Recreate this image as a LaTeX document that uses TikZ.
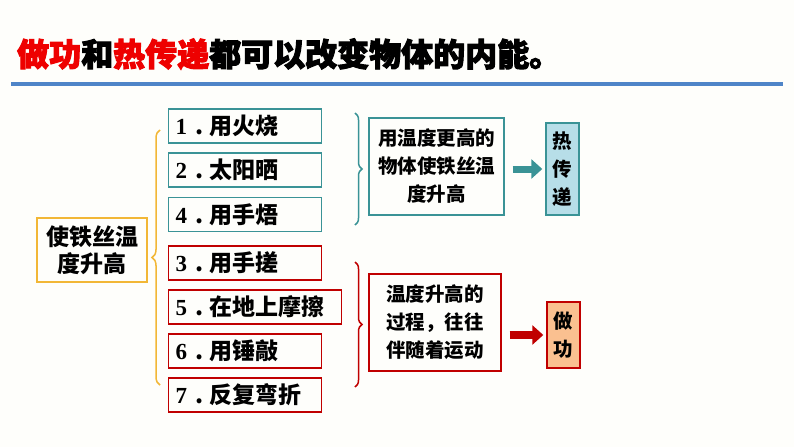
\documentclass[tikz,border=0pt]{standalone}
\usepackage{fontspec}
\usetikzlibrary{arrows.meta,decorations.pathreplacing}
\newfontfamily\cjk{Noto Sans CJK SC}
\newfontfamily\cjkt{Noto Sans CJK SC}[BoldFeatures={FakeBold=3}]
\newfontfamily\numf{Liberation Serif}
\definecolor{tealc}{HTML}{3A9396}
\definecolor{tealfill}{HTML}{B7DEE8}
\definecolor{redc}{HTML}{C00000}
\definecolor{workfill}{HTML}{FAC090}
\definecolor{yelc}{HTML}{F2B736}
\definecolor{bluec}{HTML}{4F85C8}
\definecolor{titlered}{HTML}{EE0000}
\definecolor{bgc}{HTML}{FEFEFB}
\newcommand\itemlbl[2]{{\numf\bfseries #1}\hspace{8pt}{\cjk\bfseries .}\hspace{6pt}{\cjk\bfseries #2}}
\tikzset{
  itembox/.style={draw, line width=1.3pt, anchor=west, minimum height=34pt, inner xsep=7pt, inner ysep=0pt, align=left, font=\fontsize{23}{26}\selectfont},
  tbox/.style={itembox, draw=tealc},
  rbox/.style={itembox, draw=redc},
  bigbox/.style={draw, line width=1.4pt, align=center, inner sep=0pt, font=\cjk\bfseries\fontsize{19.5}{28}\selectfont},
  bracestyle/.style={decorate, line width=1.5pt, decoration={brace, amplitude=8pt, aspect=0.5}},
  fatarrow/.style={line width=8pt, -{Triangle[length=11pt,width=19pt]}, shorten <=8pt, shorten >=3pt}
}
\begin{document}
\begin{tikzpicture}[x=1pt,y=-1pt]
\fill[bgc] (0,0) rectangle (794,447);
\useasboundingbox (0,0) rectangle (794,447);
% title
\node[anchor=west, inner sep=0pt, font=\cjkt\bfseries\fontsize{32}{38}\selectfont] (title) at (17,54)
  {\textcolor{titlered}{做功}和\textcolor{titlered}{热传递}都可以改变物体的内能。};
\coordinate (la) at (11,84);
\coordinate (lb) at (783,84);
\draw[bluec, line width=3.8pt] (la) -- (lb);
% left node
\node[draw=yelc, line width=1.4pt, minimum width=110pt, minimum height=64pt, inner sep=0pt, align=center,
  font=\cjk\bfseries\fontsize{23}{27}\selectfont] (src) at (92,250) {使铁丝温\\度升高};
% yellow brace
\coordinate (yb) at (160,385);
\coordinate (yt) at (160,130);
\draw[bracestyle, yelc] (yb) -- (yt);
% items
\node[tbox, text width=139pt] (i1) at (168,126) {\itemlbl{1}{用火烧}};
\node[tbox, text width=139pt] (i2) at (168,170) {\itemlbl{2}{太阳晒}};
\node[tbox, text width=139pt] (i4) at (168,214.5) {\itemlbl{4}{用手焐}};
\node[rbox, text width=139pt] (i3) at (168,263) {\itemlbl{3}{用手搓}};
\node[rbox, text width=159pt] (i5) at (168,307) {\itemlbl{5}{在地上摩擦}};
\node[rbox, text width=139pt] (i6) at (168,351) {\itemlbl{6}{用锤敲}};
\node[rbox, text width=139pt] (i7) at (168,395) {\itemlbl{7}{反复弯折}};
% right braces
\coordinate (tbt) at (355,113);
\coordinate (tbb) at (355,225);
\draw[bracestyle, tealc, decoration={amplitude=7pt}] (tbt) -- (tbb);
\coordinate (rbt) at (355,262);
\coordinate (rbb) at (355,387);
\draw[bracestyle, redc, decoration={amplitude=7pt}] (rbt) -- (rbb);
% explanation boxes
\node[bigbox, draw=tealc, minimum width=135pt, minimum height=97pt] (tex) at (436.5,166.5) {用温度更高的\\物体使铁丝温\\度升高};
\node[bigbox, draw=redc, minimum width=132pt, minimum height=97pt] (rex) at (435,322.5) {温度升高的\\过程，往往\\伴随着运动};
% result boxes
\node[bigbox, draw=tealc, fill=tealfill, minimum width=33pt, minimum height=92pt] (heat) at (562.5,169) {热\\传\\递};
\node[bigbox, draw=redc, fill=workfill, minimum width=33pt, minimum height=66pt] (work) at (563.5,335) {做\\功};
% arrows
\draw[fatarrow, tealc, line width=7pt] (tex.east |- heat.west) -- (heat.west);
\draw[fatarrow, redc, line width=8.5pt] (rex.east |- work.west) -- (work.west);
\end{tikzpicture}
\end{document}
